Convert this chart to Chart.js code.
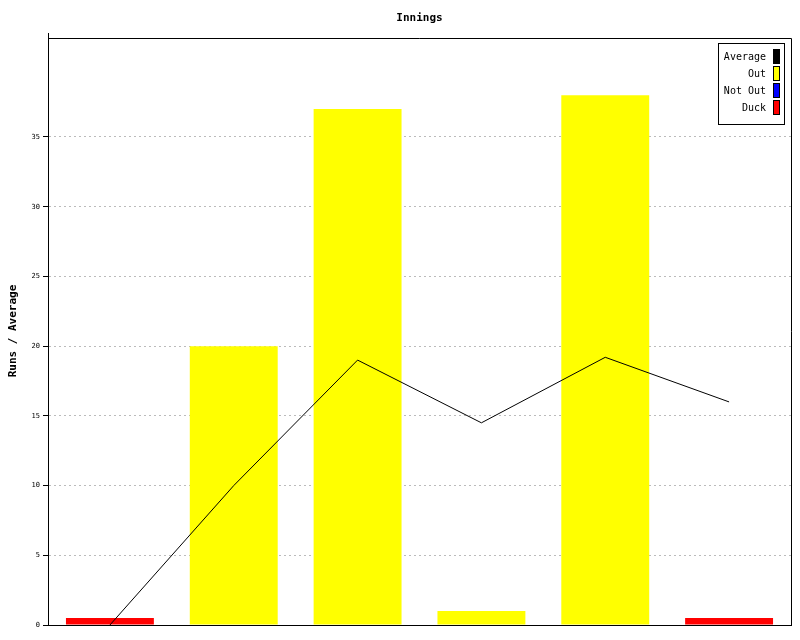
<!DOCTYPE html>
<html>
<head>
<meta charset="utf-8">
<script src="https://cdn.jsdelivr.net/npm/chart.js@4.4.0/dist/chart.umd.min.js"></script>
<style>
  html, body { margin: 0; padding: 0; background: #fff; }
  #wrap { width: 800px; height: 640px; }
</style>
</head>
<body>
<div id="wrap"><canvas id="c"></canvas></div>
<script>
// ── Données ──────────────────────────────────────────────
const INNINGS   = ["1", "2", "3", "4", "5", "6"];
const AVERAGE   = [0, 10, 19, 14.5, 19.2, 16];
const OUT       = [null, 20, 37, 1, 38, null];
const NOT_OUT   = [null, null, null, null, null, null];
const DUCK      = [0.5, null, null, null, null, 0.5];
const Y_TICKS   = [0, 5, 10, 15, 20, 25, 30, 35];

const LEGEND_ITEMS = [
  { label: "Average", color: "#000000" },
  { label: "Out",     color: "#ffff00" },
  { label: "Not Out", color: "#0000ff" },
  { label: "Duck",    color: "#ff0000" },
];

const MONO = "'DejaVu Sans Mono', monospace";

// ── Titre, label Y, cadre et légende ─────────────────────
const decor = {
  id: "decor",
  afterDraw(chart) {
    const { ctx, chartArea: a } = chart;
    ctx.save();
    // cadre haut / droite
    ctx.strokeStyle = "#000";
    ctx.lineWidth = 1;
    ctx.beginPath();
    ctx.moveTo(a.left, a.top + 0.5);
    ctx.lineTo(a.right + 0.5, a.top + 0.5);
    ctx.lineTo(a.right + 0.5, a.bottom);
    ctx.moveTo(a.left + 0.5, a.top - 5);
    ctx.lineTo(a.left + 0.5, a.top);
    ctx.stroke();

    // titre
    ctx.fillStyle = "#000";
    ctx.font = "bold 11px " + MONO;
    ctx.textAlign = "center";
    ctx.textBaseline = "middle";
    ctx.fillText("Innings", (a.left + a.right) / 2, 18);

    // label axe Y
    ctx.save();
    ctx.translate(13, 331);
    ctx.rotate(-Math.PI / 2);
    ctx.font = "bold 11px " + MONO;
    ctx.fillText("Runs / Average", 0, 0);
    ctx.restore();

    // légende
    const bx = 718.5, by = 43.5, bw = 66, bh = 81;
    ctx.fillStyle = "#fff";
    ctx.fillRect(bx, by, bw, bh);
    ctx.strokeRect(bx, by, bw, bh);
    ctx.font = "10px " + MONO;
    ctx.textAlign = "right";
    LEGEND_ITEMS.forEach((it, i) => {
      const y = 57 + i * 17;
      ctx.fillStyle = "#000";
      ctx.fillText(it.label, 766, y);
      ctx.fillStyle = it.color;
      ctx.fillRect(773.5, y - 7.5, 6, 14);
      ctx.strokeRect(773.5, y - 7.5, 6, 14);
    });
    ctx.restore();
  }
};

function barSet(label, data, color) {
  return {
    type: "bar",
    label,
    data,
    backgroundColor: color,
    borderWidth: 0,
    barPercentage: 0.71,
    categoryPercentage: 1,
    stack: "runs",
    order: 2,
  };
}

new Chart(document.getElementById("c"), {
  type: "bar",
  data: {
    labels: INNINGS,
    datasets: [
      {
        type: "line",
        label: "Average",
        data: AVERAGE,
        borderColor: "#000",
        borderWidth: 1,
        pointRadius: 0,
        tension: 0,
        fill: false,
        order: 1,
      },
      barSet("Out", OUT, "#ffff00"),
      barSet("Not Out", NOT_OUT, "#0000ff"),
      barSet("Duck", DUCK, "#ff0000"),
    ],
  },
  options: {
    responsive: true,
    maintainAspectRatio: false,
    animation: false,
    layout: { padding: { top: 38, right: 9, bottom: 15, left: 0 } },
    plugins: {
      legend: { display: false },
      title: { display: false },
      tooltip: { enabled: false },
    },
    scales: {
      x: {
        stacked: true,
        offset: true,
        ticks: { display: false },
        grid: { display: false, drawTicks: false },
        border: { display: true, color: "#000", width: 1 },
      },
      y: {
        stacked: false,
        min: 0,
        max: 42.1,
        afterBuildTicks(scale) {
          scale.ticks = Y_TICKS.map(v => ({ value: v }));
        },
        afterFit(scale) { scale.width = 48; },
        ticks: {
          color: "#000",
          font: { family: MONO, size: 7 },
          padding: 3,
        },
        grid: {
          color: ctx => (ctx.tick && ctx.tick.value === 0 ? "rgba(0,0,0,0)" : "#bbbbbb"),
          tickColor: "#000",
          tickLength: 5,
          lineWidth: 1,
        },
        border: { display: true, color: "#000", width: 1, dash: [2, 3] },
      },
    },
  },
  plugins: [decor],
});
</script>
</body>
</html>
